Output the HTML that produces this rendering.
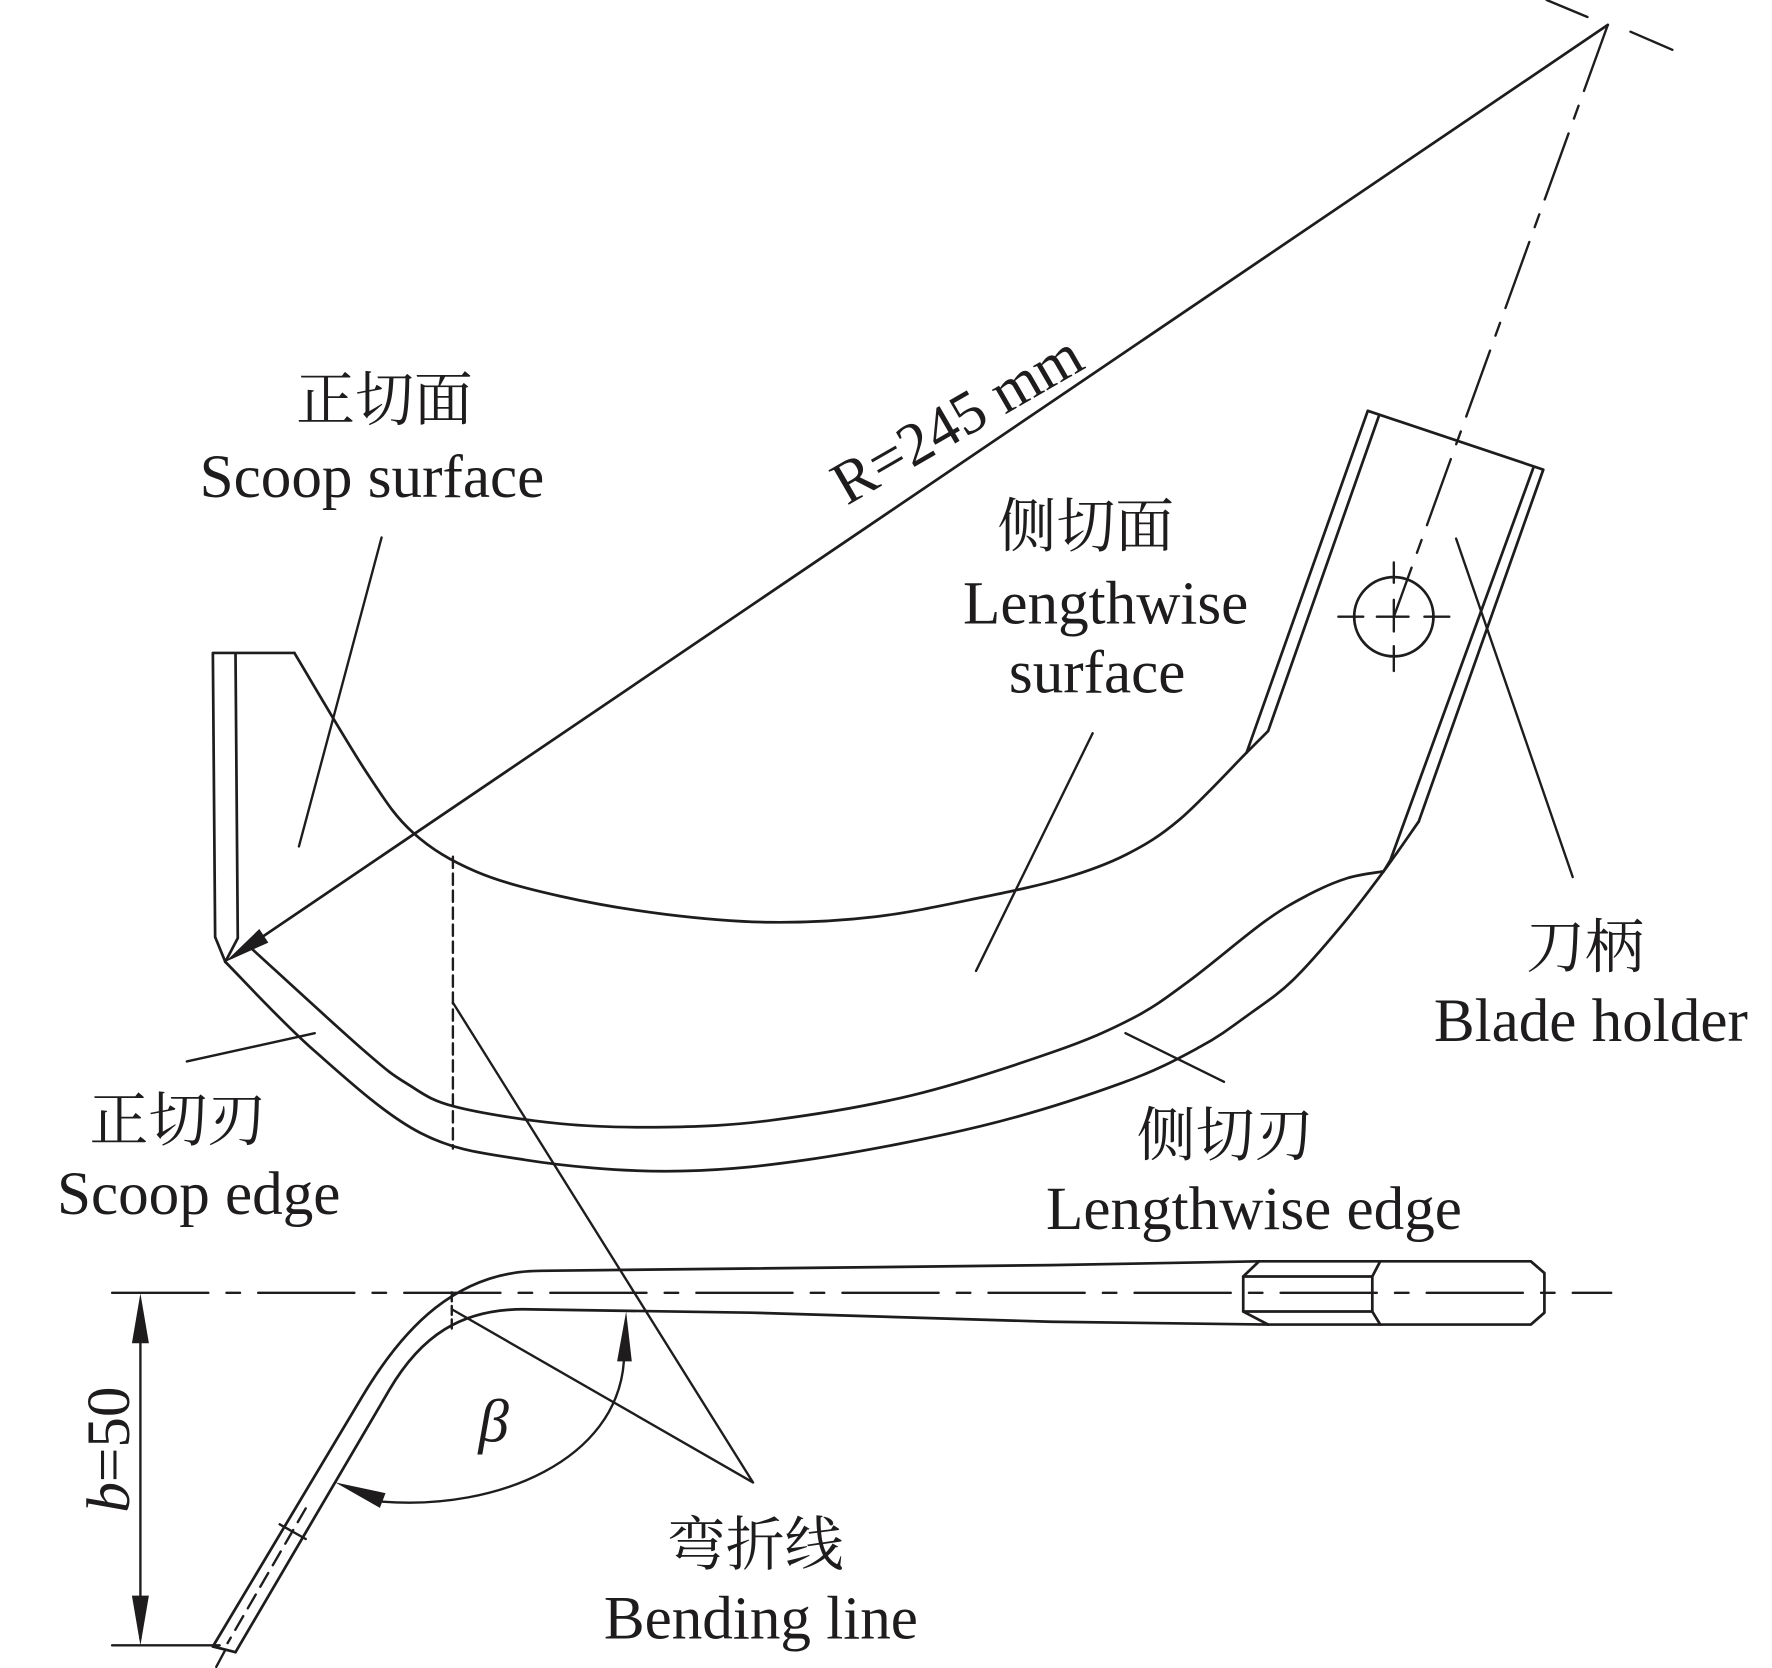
<!DOCTYPE html>
<html>
<head>
<meta charset="utf-8">
<style>
  html,body{margin:0;padding:0;background:#fff;}
  svg{display:block;}
  .ln{fill:none;stroke:#1e1c1d;stroke-width:2.4;stroke-linecap:round;stroke-linejoin:round;}
  .th{fill:none;stroke:#1e1c1d;stroke-width:2.1;stroke-linecap:round;}
  .en{font-family:"Liberation Serif","Noto Serif CJK SC",serif;font-size:54px;fill:#1e1c1d;}
  .cn{font-family:"Liberation Serif","Noto Serif CJK SC","Noto Sans CJK SC",serif;font-size:52px;fill:#1e1c1d;}
  .ah{fill:#1e1c1d;stroke:none;}
</style>
</head>
<body>
<svg width="1772" height="1668" viewBox="0 0 1565 1474" preserveAspectRatio="none" xmlns="http://www.w3.org/2000/svg">
  <rect x="0" y="0" width="1565" height="1474" fill="#fff"/>

  <!-- centre tick near rotation centre -->
  <path class="th" d="M1366,0 L1402,15 M1440,28 L1477,44"/>
  <!-- R radius line -->
  <path class="ln" d="M1420,22 L205,846"/>
  <polygon class="ah" points="199,850 237,833 229,821"/>
  <!-- dash-dot to hole centre -->
  <path class="th" d="M1420,22 L1231,545" stroke-dasharray="62 14 12 14"/>

  <!-- scoop -->
  <path class="ln" d="M260,577 L188,577 L190,828 L199,850"/>
  <path class="ln" d="M208,578 L210,829 L199,850"/>

  <!-- top curve of lengthwise surface -->
  <path class="ln" d="M260,577 C270.7,594.7 306.5,656.5 324,683 C341.5,709.5 349,721.5 365,736 C381,750.5 398.3,760.7 420,770 C441.7,779.3 467,785.7 495,792 C523,798.3 557,804.2 588,808 C619,811.8 650,814.7 681,815 C712,815.3 743,813.7 774,810 C805,806.3 839.3,798.7 867,793 C894.7,787.3 918.7,782.3 940,776 C961.3,769.7 978,763.7 995,755 C1012,746.3 1024.3,739 1042,724 C1059.7,709 1091.2,674.8 1101,665"/>
  <!-- band upper curve (A) -->
  <path class="ln" d="M223,839 C239.3,853.8 298.2,908.2 321,928 C343.8,947.8 346.5,949.7 360,958 C373.5,966.3 379.5,972.2 402,978 C424.5,983.8 464,990 495,993 C526,996 557,996.5 588,996 C619,995.5 644.8,994.7 681,990 C717.2,985.3 763.7,978 805,968 C846.3,958 896.5,941.3 929,930 C961.5,918.7 979.8,910.5 1000,900 C1020.2,889.5 1030.7,881.2 1050,867 C1069.3,852.8 1098.5,827.7 1116,815 C1133.5,802.3 1142.7,797.5 1155,791 C1167.3,784.5 1178.8,779.5 1190,776 C1201.2,772.5 1216.7,771 1222,770"/>
  <!-- band lower curve (B) -->
  <path class="ln" d="M199,850 C212,863 248.3,902.8 277,928 C305.7,953.2 339.8,984.8 371,1001 C402.2,1017.2 427.8,1019.3 464,1025 C500.2,1030.7 546.7,1035 588,1035 C629.3,1035 665.5,1031.7 712,1025 C758.5,1018.3 820.5,1006.3 867,995 C913.5,983.7 958.8,968.7 991,957 C1023.2,945.3 1041,935.3 1060,925 C1079,914.7 1091.3,904.8 1105,895 C1118.7,885.2 1128.8,878.7 1142,866 C1155.2,853.3 1170.7,835 1184,819 C1197.3,803 1210.5,785.5 1222,770 C1233.5,754.5 1247.8,733.3 1253,726"/>

  <!-- blade holder -->
  <path class="ln" d="M1253,726 L1363,415 L1208,363 L1101,665"/>
  <path class="ln" d="M1218,367 L1120,646 L1101,665"/>
  <path class="ln" d="M1354,414 L1228,760 L1222,770"/>

  <!-- hole -->
  <circle cx="1231" cy="545" r="35" class="ln"/>
  <path class="th" d="M1182,545 L1204,545 M1216,545 L1244,545 M1258,545 L1280,545 M1231,497 L1231,515 M1231,530 L1231,558 M1231,571 L1231,593"/>

  <!-- dashed bending line on blade -->
  <path class="th" d="M400,757 L400,1015" stroke-dasharray="10 5"/>

  <!-- leaders -->
  <path class="th" d="M337,475 L264,748"/>
  <path class="th" d="M965,648 L862,858"/>
  <path class="th" d="M1286,476 L1389,775"/>
  <path class="th" d="M165,938 L278,913"/>
  <path class="th" d="M994,913 L1081,956"/>
  <path class="th" d="M400,886 L665,1310"/>
  <path class="th" d="M399,1157 L665,1310"/>

  <!-- side profile -->
  <path class="th" d="M99,1142.5 L1423,1142.5" stroke-dasharray="85 16 12 16"/>
  <path class="ln" d="M188,1455 L320,1234 C355.9,1173.9 403,1123 478,1123 L663,1121 L928,1118 L1112,1114.6"/>
  <path class="ln" d="M208,1460 L344,1228 C371.8,1180.6 407,1157 462,1157 L663,1160 L928,1168 L1120,1170.5"/>
  <path class="ln" d="M188,1455 L208,1460"/>
  <path class="th" d="M199,1458 L191,1473"/>
  <path class="th" d="M270,1333 L201,1452" stroke-dasharray="14 8"/>
  <path class="th" d="M247,1347 L270,1360"/>
  <path class="th" d="M399,1142 L399,1174" stroke-dasharray="8 4"/>

  <!-- hex end -->
  <path class="ln" d="M1112,1114.6 L1098,1128 L1098,1159 L1120,1170.5"/>
  <path class="ln" d="M1112,1114.6 L1352,1114.6 L1364,1125 L1364,1160 L1352,1170.5 L1120,1170.5"/>
  <path class="ln" d="M1098,1128 L1212,1128 M1098,1159 L1212,1159"/>
  <path class="ln" d="M1219,1114.6 L1212,1128 L1212,1159 L1219,1170.5"/>

  <!-- dimension b=50 -->
  <path class="th" d="M124,1150 L124,1448"/>
  <polygon class="ah" points="124,1143 116.5,1187 131.5,1187"/>
  <polygon class="ah" points="124,1454 116.5,1410 131.5,1410"/>
  <path class="th" d="M99,1454 L194,1454"/>

  <!-- beta arc -->
  <path class="th" d="M551,1203 C545,1290 440,1335 338,1327"/>
  <polygon class="ah" points="553,1159 545,1203 558,1203"/>
  <polygon class="ah" points="296,1310 340.5,1319.5 335.5,1332.5"/>

  <!-- texts -->
  <text class="cn" x="339.5" y="371" text-anchor="middle">正切面</text>
  <text class="en" x="328.5" y="439" text-anchor="middle">Scoop surface</text>
  <text class="en" style="font-family:'Liberation Serif',serif" font-family="Liberation Serif" transform="translate(748,447) rotate(-30)" x="0" y="0">R=245 mm</text>
  <text class="cn" x="959" y="483" text-anchor="middle">侧切面</text>
  <text class="en" x="976.5" y="551" text-anchor="middle">Lengthwise</text>
  <text class="en" x="969" y="612" text-anchor="middle">surface</text>
  <text class="cn" x="1400" y="855" text-anchor="middle">刀柄</text>
  <text class="en" x="1405" y="920" text-anchor="middle">Blade holder</text>
  <text class="cn" x="157" y="1008" text-anchor="middle">正切刃</text>
  <text class="en" x="175.5" y="1073" text-anchor="middle">Scoop edge</text>
  <text class="cn" x="1082" y="1021" text-anchor="middle">侧切刃</text>
  <text class="en" x="1107.5" y="1086" text-anchor="middle">Lengthwise edge</text>
  <text class="cn" x="667" y="1383" text-anchor="middle">弯折线</text>
  <text class="en" x="672" y="1448" text-anchor="middle">Bending line</text>
  <text class="en" style="font-family:'Liberation Serif',serif" font-family="Liberation Serif" transform="translate(114,1281) rotate(-90)" x="0" y="0" text-anchor="middle"><tspan font-style="italic">b</tspan>=50</text>
  <text class="en" style="font-family:'Liberation Serif',serif" x="436" y="1274" text-anchor="middle" font-style="italic" font-size="52">β</text>
</svg>
</body>
</html>
